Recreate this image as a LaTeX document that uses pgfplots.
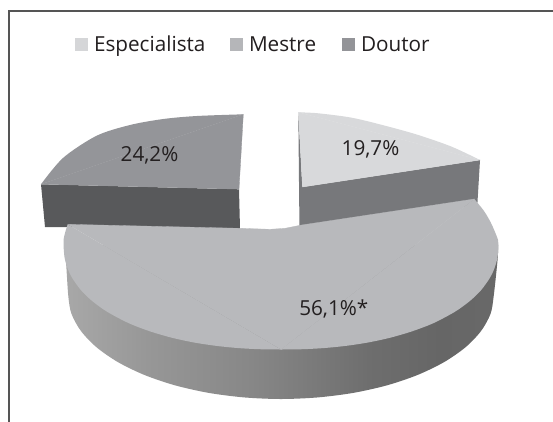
\documentclass[border=0pt]{standalone}
\usepackage{fontspec}
\setmainfont{Open Sans}
\usepackage{pgfplots}
\pgfplotsset{compat=1.18}
\definecolor{txt}{HTML}{231F20}
\definecolor{frameC}{HTML}{555555}
\definecolor{espTop}{HTML}{D8D9DB}
\definecolor{espSide}{HTML}{77787B}
\definecolor{mesTop}{HTML}{B8B9BC}
\definecolor{douTop}{HTML}{949599}
\definecolor{douSide}{HTML}{58595B}
\definecolor{legE}{HTML}{D5D6D8}
\definecolor{legM}{HTML}{B5B6B9}
\definecolor{legD}{HTML}{939498}
\pgfdeclarehorizontalshading{sideshade}{100bp}{
 color(0bp)=(black!34);
 color(25bp)=(black!34);
 color(35bp)=(black!41);
 color(46.5bp)=(black!47);
 color(52.2bp)=(black!51);
 color(60.3bp)=(black!57);
 color(68.3bp)=(black!60);
 color(75bp)=(black!59);
 color(100bp)=(black!59)}
\begin{document}
\begin{tikzpicture}
\begin{axis}[
  scale only axis, width=553pt, height=421pt,
  xmin=0, xmax=553, ymin=0, ymax=421, y dir=reverse,
  hide axis, clip=true,
  nodes={font=\fontsize{20.7}{24}\selectfont, text=txt, inner sep=0pt, outer sep=0pt}]
% page
\addplot[draw=none, fill=white] coordinates {(0,0)(553,0)(553,421)(0,421)};
% frame
\addplot[draw=frameC, line width=2pt] coordinates {(9,422)(9,11)(554,11)};
% Doutor
\addplot[draw=none, fill=douSide] coordinates {(41,184.3)(45,227)(240,228.6)(239,189.3)};
\addplot[draw=none, fill=douTop, smooth] coordinates {(41,184.3)(63.3,157.7)(96.7,135.7)(130,125)(163.3,119)(196.7,116)(243.3,114.3)};
\addplot[draw=douTop, line width=0.3pt, fill=douTop] coordinates {(41,184.3)(243.3,114.3)(239,189.3)};
% Especialista
\addplot[draw=none, fill=espSide] coordinates {(298.3,112.3)(302.3,187)(480,160)(477.3,205)(301.7,232)(299.5,232)};
\addplot[draw=none, fill=espTop, smooth] coordinates {(298.3,112.3)(318.3,113.3)(351.7,117.7)(385,125.7)(418.3,135)(451.7,146.7)(480,160)};
\addplot[draw=espTop, line width=0.3pt, fill=espTop] coordinates {(298.3,112.3)(480,160)(302.3,187)};
% Mestre side
\addplot[draw=none, shade, shading=sideshade, smooth] coordinates {(498,245)(497.7,258.3)(493.7,296)(490.5,313.9)(480.9,331.2)(465.2,347.5)(443.9,362.2)(417.7,374.9)(387.4,385.2)(353.7,392.8)(317.9,397.4)(281,399)(244.1,397.4)(208.3,392.8)(174.6,385.2)(144.3,374.9)(118.1,362.2)(96.8,347.5)(81.1,331.2)(71.5,313.9)(68.3,296)(66,262)(64,245)};
% Mestre top
\addplot[draw=none, fill=mesTop, smooth] coordinates {(474.3,199)(484,211)(490.5,222)(495,232)(498,240)(498.5,245)(497.4,257.8)(494.2,269)(489.8,278)(481.1,290.1)(470.2,300.7)(455,311.7)(433.3,323.2)(411.5,331.5)(389.8,337.8)(368,342.5)(346.3,345.8)(324.5,348)(302.8,349.2)(281,349.5)};
\addplot[draw=none, fill=mesTop, smooth] coordinates {(281,349.5)(259.2,349.2)(237.5,348)(215.8,345.8)(194,342.5)(172.2,337.8)(150.5,331.5)(128.8,323.2)(107,311.7)(91.8,300.7)(80.9,290.1)(72.2,278)(67.8,269)(64.6,257.8)(63.5,245)(63.5,240)(65,233)(67.7,224.3)};
\addplot[draw=mesTop, line width=0.3pt, fill=mesTop] coordinates {(67.7,224.3)(240,228.3)(270,229.3)(285,228.3)(301.7,225)(474.3,199)(281,349.5)};
% legend
\addplot[draw=none, fill=legE] coordinates {(75,37.7)(88.3,37.7)(88.3,51)(75,51)};
\addplot[draw=none, fill=legM] coordinates {(230,37.7)(243.3,37.7)(243.3,51)(230,51)};
\addplot[draw=none, fill=legD] coordinates {(341.7,37.7)(355,37.7)(355,51)(341.7,51)};
\node[anchor=base west] at (axis cs:94,51.7) {Especialista};
\node[anchor=base west] at (axis cs:249,51.7) {Mestre};
\node[anchor=base west] at (axis cs:361,51.7) {Doutor};
% labels
\node[anchor=base west] at (axis cs:120.7,161) {24,2\%};
\node[anchor=base west] at (axis cs:341.7,155) {19,7\%};
\node[anchor=base west] at (axis cs:299.3,315) {56,1\%*};
\end{axis}
\end{tikzpicture}
\end{document}
